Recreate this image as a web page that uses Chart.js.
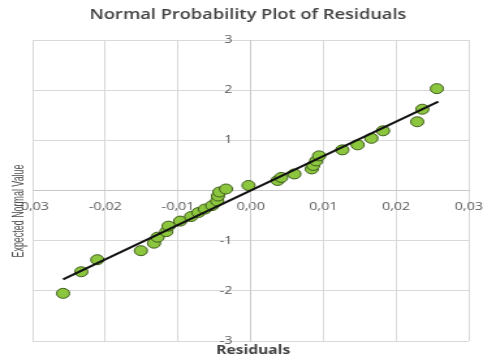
<!DOCTYPE html>
<html>
<head>
<meta charset="utf-8">
<title>Normal Probability Plot of Residuals</title>
<script src="https://cdn.jsdelivr.net/npm/chart.js@4.4.0/dist/chart.umd.min.js"></script>
<style>
    html, body { margin: 0; padding: 0; background: #fff; }
    canvas { display: block; }
</style>
</head>
<body>
<!-- the reference is stretched sideways, so the canvas is drawn narrow and widened by css -->
<canvas id="chart" width="381" height="357" style="width:496px;height:357px"></canvas>
<script>

// residuals (x) and expected normal values (y)
const residuals = [-0.0258, -0.0233, -0.0211, -0.0151, -0.0133, -0.0128, -0.0116, -0.0113,
    -0.0097, -0.0082, -0.0072, -0.0063, -0.0053, -0.0046, -0.0045, -0.0043,
    -0.0034, -0.0003, 0.0037, 0.0042, 0.0060, 0.0084, 0.0086, 0.0090,
    0.0094, 0.0126, 0.0147, 0.0166, 0.0182, 0.0229, 0.0236, 0.0256];
const expected = [-2.05, -1.62, -1.38, -1.20, -1.05, -0.93, -0.82, -0.71,
    -0.61, -0.52, -0.44, -0.37, -0.30, -0.21, -0.11, -0.03,
    0.03, 0.10, 0.20, 0.26, 0.33, 0.43, 0.50, 0.59,
    0.69, 0.81, 0.91, 1.04, 1.19, 1.37, 1.62, 2.03];

// fitted line end points
const fitX = [-0.0258, 0.0258];
const fitY = [-1.77, 1.77];

const xTicks = [-0.03, -0.02, -0.01, 0, 0.01, 0.02, 0.03];
const yTicks = [-3, -2, -1, 0, 1, 2, 3];

const chartTitle = 'Normal Probability Plot of Residuals';
const xTitle = 'Residuals';
const yTitle = 'Expected Normal Value';

const points = residuals.map((r, i) => ({x: r, y: expected[i]}));
const fitLine = fitX.map((x, i) => ({x: x, y: fitY[i]}));

const textPlugin = {
    id: 'texts',
    afterDraw(chart) {
        const ctx = chart.ctx;
        const xs = chart.scales.x;
        const ys = chart.scales.y;
        ctx.save();

        // y tick labels, right aligned a bit left of the zero line
        // (chart.js ignores tick padding on an axis placed at a value)
        ctx.fillStyle = '#595959';
        ctx.font = '11px "Open Sans"';
        ctx.textAlign = 'right';
        ctx.textBaseline = 'middle';
        const labelX = xs.getPixelForValue(0) - 14;
        yTicks.forEach(v => {
            if (v !== 0) ctx.fillText(String(v), labelX, ys.getPixelForValue(v));
        });

        ctx.textAlign = 'center';
        ctx.fillStyle = '#404040';
        ctx.font = '600 14px "Open Sans"';
        ctx.fillText(chartTitle, 190.5, 15);

        ctx.font = 'bold 12px "Open Sans"';
        ctx.fillText(xTitle, 194.5, 351);

        // y title, squeezed along its length
        ctx.fillStyle = '#4d4d4d';
        ctx.font = '12px "Liberation Sans"';
        const w = ctx.measureText(yTitle).width;
        ctx.translate(14.5, 211);
        ctx.rotate(-Math.PI / 2);
        ctx.scale(93 / w, 1);
        ctx.fillText(yTitle, 0, 0);
        ctx.restore();
    }
};

new Chart(document.getElementById('chart'), {
    type: 'scatter',
    data: {
        datasets: [{
            type: 'line',
            data: fitLine,
            borderColor: '#111111',
            borderWidth: 2,
            pointRadius: 0,
            fill: false
        }, {
            data: points,
            backgroundColor: '#8cc63f',
            borderColor: '#3e5a1c',
            borderWidth: 1,
            pointRadius: 5,
            pointHoverRadius: 5
        }]
    },
    options: {
        responsive: false,
        animation: false,
        layout: {
            padding: {left: 25, right: 18, top: 40, bottom: 16}
        },
        plugins: {
            legend: {display: false},
            title: {display: false},
            tooltip: {enabled: false}
        },
        scales: {
            x: {
                type: 'linear',
                position: {y: 0},
                min: xTicks[0],
                max: xTicks[xTicks.length - 1],
                afterBuildTicks: axis => { axis.ticks = xTicks.map(v => ({value: v})); },
                ticks: {
                    font: {family: 'Open Sans', size: 11},
                    color: '#595959',
                    padding: 10,
                    callback: v => Math.abs(v) < 1e-9 ? '0,00' : v.toFixed(2).replace('.', ',')
                },
                grid: {color: '#d9d9d9', drawTicks: false},
                border: {color: '#c8c8c8'}
            },
            y: {
                type: 'linear',
                position: {x: 0},
                min: yTicks[0],
                max: yTicks[yTicks.length - 1],
                afterBuildTicks: axis => { axis.ticks = yTicks.map(v => ({value: v})); },
                ticks: {display: false},
                grid: {color: '#d9d9d9', drawTicks: false},
                border: {color: '#c8c8c8'}
            }
        }
    },
    plugins: [textPlugin]
});
</script>
</body>
</html>
